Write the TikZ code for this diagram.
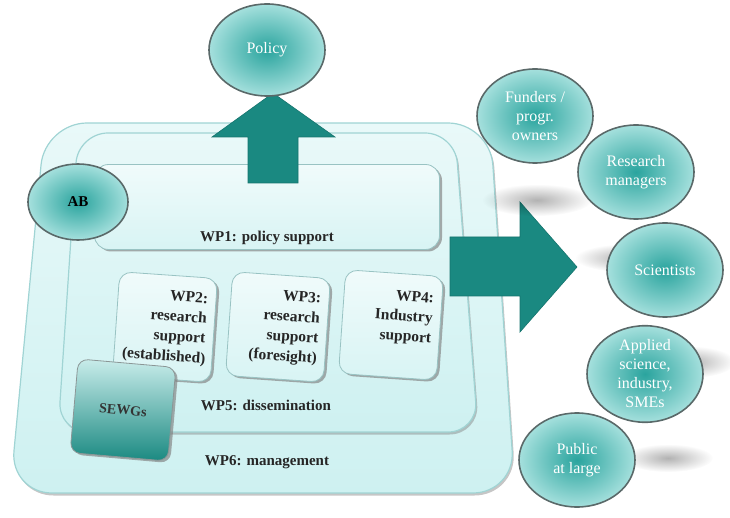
\documentclass[tikz,border=0pt]{standalone}
\usepackage{fontspec}
\setmainfont{Liberation Serif}
\usetikzlibrary{shapes.geometric,shadows,fadings}
\definecolor{tealdark}{RGB}{26,137,129}
\definecolor{tealmid}{RGB}{42,164,158}
\definecolor{teallight}{RGB}{165,224,221}
\definecolor{panefill}{RGB}{206,241,241}
\definecolor{paneedge}{RGB}{160,212,212}
\definecolor{rimgray}{RGB}{90,105,105}
\tikzfading[name=softglow, inner color=transparent!0, outer color=transparent!100]
\tikzstyle{pane} = [draw=paneedge, line width=1.2pt, top color=panefill!45!white, bottom color=panefill, drop shadow={shadow xshift=1.5pt, shadow yshift=-2.5pt, opacity=0.45}]
\tikzstyle{card} = [draw=paneedge!80!gray, line width=0.8pt, rounded corners=12pt, top color=panefill!30!white, bottom color=panefill!80!white, minimum width=98pt, minimum height=104pt, text width=82pt, align=right, font=\bfseries\fontsize{15.5}{20}\selectfont, text=black!85, drop shadow={shadow xshift=2.5pt, shadow yshift=-2pt, opacity=0.65}]
\tikzstyle{sewg} = [draw=rimgray!70, line width=0.8pt, rounded corners=10pt, top color=teallight!60!white, bottom color=tealdark, minimum width=98pt, minimum height=94pt, font=\bfseries\fontsize{14}{16}\selectfont, text=black!80, drop shadow={shadow xshift=2.5pt, shadow yshift=-2pt, opacity=0.65}]
\tikzstyle{aud} = [ellipse, draw=rimgray, line width=1.6pt, inner color=tealmid, outer color=teallight, text=white, minimum width=116pt, minimum height=94pt, inner sep=0pt, align=center, font=\fontsize{16}{19}\selectfont]
\tikzstyle{caption} = [font=\bfseries\fontsize{15}{17}\selectfont, text=black!85]
\tikzstyle{bigarrow} = [fill=tealdark, draw=tealdark!85!black, line width=0.6pt]
\tikzstyle{halo} = [black, opacity=0.3, path fading=softglow]

\begin{document}
\begin{tikzpicture}[x=1pt,y=-1pt]
        \useasboundingbox (0,0) rectangle (730,518);
        \draw[pane,rounded corners=42pt] (10,493) -- (45,123) -- (490,123) -- (515,493) -- cycle;
        \draw[pane,rounded corners=30pt] (58,432) -- (78,133) -- (455,133) -- (478,432) -- cycle;
        \node[card,rounded corners=14pt,minimum width=345pt,minimum height=85pt](wp1) at (267,207){};
        \node[caption](wp1lbl) at (267,238){WP1: policy support};
        \node[aud,text=black,font=\bfseries\fontsize{15}{17}\selectfont,minimum width=100pt,minimum height=76pt](ab) at (78,202){AB};
        \node[card,rotate=-4](wp2) at (165,327){WP2:\\research\\support\\(established)};
        \node[card,rotate=-4](wp3) at (278,327){WP3:\\research\\support\\(foresight)};
        \node[card,rotate=-4](wp4) at (391,325){WP4:\\Industry\\support\\~};
        \node[sewg,rotate=-5](sewg) at (123,410){SEWGs};
        \node[caption](wp5lbl) at (266,405){WP5: dissemination};
        \node[caption](wp6lbl) at (267,462){WP6: management};
        \draw[bigarrow] (248,183) -- (248,137) -- (212,137) -- (273,93) -- (335,137) -- (298,137) -- (298,183) -- cycle;
        \draw[bigarrow] (450,237) -- (520,237) -- (520,202) -- (577,267) -- (520,332) -- (520,296) -- (450,296) -- cycle;
        \node[aud,minimum height=92pt](policy) at (267,50){Policy};
        \fill[halo] (537,200) ellipse [x radius=55pt, y radius=16pt];
        \fill[halo] (625,258) ellipse [x radius=50pt, y radius=14pt];
        \fill[halo] (690,362) ellipse [x radius=45pt, y radius=16pt];
        \fill[halo] (668,458) ellipse [x radius=45pt, y radius=14pt];
        \node[aud](funders) at (535,116){Funders /\\progr.\\owners};
        \node[aud](managers) at (636,172){Research\\managers};
        \node[aud](scientists) at (665,270){Scientists};
        \node[aud](applied) at (645,374){Applied\\science,\\industry,\\SMEs};
        \node[aud](public) at (577,460){Public\\at large};
      \end{tikzpicture}
\end{document}
